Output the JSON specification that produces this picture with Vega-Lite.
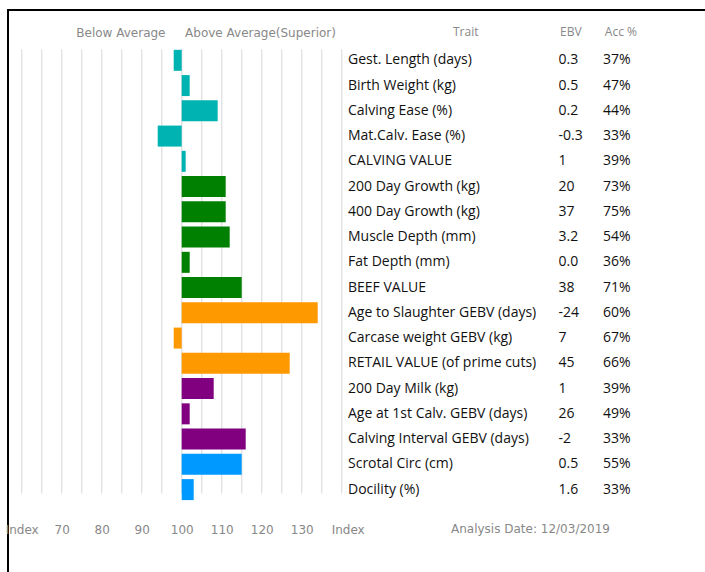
{
  "$schema": "https://vega.github.io/schema/vega-lite/v6.json",
  "width": 698,
  "height": 563,
  "autosize": {"type": "none"},
  "padding": {"left": 8, "top": 10, "right": 0, "bottom": 0},
  "background": "white",
  "config": {"view": {"stroke": "#000000", "strokeWidth": 2}},
  "datasets": {
    "traits": [
      {"row": 1, "trait": "Gest. Length (days)", "index": 98, "ebv": "0.3", "acc": "37%", "group": "Calving"},
      {"row": 2, "trait": "Birth Weight (kg)", "index": 102, "ebv": "0.5", "acc": "47%", "group": "Calving"},
      {"row": 3, "trait": "Calving Ease (%)", "index": 109, "ebv": "0.2", "acc": "44%", "group": "Calving"},
      {"row": 4, "trait": "Mat.Calv. Ease (%)", "index": 94, "ebv": "-0.3", "acc": "33%", "group": "Calving"},
      {"row": 5, "trait": "CALVING VALUE", "index": 101, "ebv": "1", "acc": "39%", "group": "Calving"},
      {"row": 6, "trait": "200 Day Growth (kg)", "index": 111, "ebv": "20", "acc": "73%", "group": "Beef"},
      {"row": 7, "trait": "400 Day Growth (kg)", "index": 111, "ebv": "37", "acc": "75%", "group": "Beef"},
      {"row": 8, "trait": "Muscle Depth (mm)", "index": 112, "ebv": "3.2", "acc": "54%", "group": "Beef"},
      {"row": 9, "trait": "Fat Depth (mm)", "index": 102, "ebv": "0.0", "acc": "36%", "group": "Beef"},
      {"row": 10, "trait": "BEEF VALUE", "index": 115, "ebv": "38", "acc": "71%", "group": "Beef"},
      {"row": 11, "trait": "Age to Slaughter GEBV (days)", "index": 134, "ebv": "-24", "acc": "60%", "group": "Retail"},
      {"row": 12, "trait": "Carcase weight GEBV (kg)", "index": 98, "ebv": "7", "acc": "67%", "group": "Retail"},
      {"row": 13, "trait": "RETAIL VALUE (of prime cuts)", "index": 127, "ebv": "45", "acc": "66%", "group": "Retail"},
      {"row": 14, "trait": "200 Day Milk (kg)", "index": 108, "ebv": "1", "acc": "39%", "group": "Maternal"},
      {"row": 15, "trait": "Age at 1st Calv. GEBV (days)", "index": 102, "ebv": "26", "acc": "49%", "group": "Maternal"},
      {"row": 16, "trait": "Calving Interval GEBV (days)", "index": 116, "ebv": "-2", "acc": "33%", "group": "Maternal"},
      {"row": 17, "trait": "Scrotal Circ (cm)", "index": 115, "ebv": "0.5", "acc": "55%", "group": "Other"},
      {"row": 18, "trait": "Docility (%)", "index": 103, "ebv": "1.6", "acc": "33%", "group": "Other"}
    ],
    "grid": [
      {"g": 60}, {"g": 65}, {"g": 70}, {"g": 75}, {"g": 80}, {"g": 85}, {"g": 90}, {"g": 95},
      {"g": 100}, {"g": 105}, {"g": 110}, {"g": 115}, {"g": 120}, {"g": 125}, {"g": 130}, {"g": 135}, {"g": 140}
    ],
    "one": [{}]
  },
  "layer": [
    {
      "data": {"name": "grid"},
      "mark": {"type": "rule", "color": "#e3e3e3", "strokeWidth": 1.5},
      "encoding": {
        "x": {
          "field": "g", "type": "quantitative",
          "scale": {"domain": [56.575, 231.075], "nice": false, "zero": false},
          "axis": {
            "values": [60, 70, 80, 90, 100, 110, 120, 130, 141.5],
            "labelExpr": "datum.value == 60 || datum.value > 140 ? 'Index' : datum.label",
            "grid": false, "ticks": false, "domain": false,
            "labelPadding": 0, "offset": -44, "labelFlush": false, "labelOverlap": false,
            "labelFont": "DejaVu Sans", "labelFontSize": 12, "labelColor": "#888888",
            "labelBaseline": "middle",
            "title": null
          }
        },
        "y": {"datum": 0.56, "type": "quantitative", "scale": {"domain": [-0.795, 21.105], "nice": false, "zero": false, "reverse": true}, "axis": null},
        "y2": {"datum": 18.15}
      }
    },
    {
      "data": {"name": "traits"},
      "mark": {"type": "bar", "size": 21},
      "encoding": {
        "x": {"field": "index", "type": "quantitative"},
        "x2": {"datum": 100},
        "y": {"field": "row", "type": "quantitative"},
        "color": {
          "field": "group", "type": "nominal",
          "scale": {"domain": ["Calving", "Beef", "Retail", "Maternal", "Other"], "range": ["#00b3b3", "#008000", "#ff9900", "#800080", "#0099ff"]},
          "legend": null
        }
      }
    },
    {
      "data": {"name": "traits"},
      "mark": {"type": "text", "align": "left", "baseline": "middle", "font": "Open Sans", "fontSize": 14, "color": "#111111"},
      "encoding": {
        "x": {"datum": 141.575, "type": "quantitative"},
        "y": {"field": "row", "type": "quantitative"},
        "text": {"field": "trait"}
      }
    },
    {
      "data": {"name": "traits"},
      "mark": {"type": "text", "align": "left", "baseline": "middle", "font": "Open Sans", "fontSize": 14, "color": "#111111"},
      "encoding": {
        "x": {"datum": 194.2, "type": "quantitative"},
        "y": {"field": "row", "type": "quantitative"},
        "text": {"field": "ebv"}
      }
    },
    {
      "data": {"name": "traits"},
      "mark": {"type": "text", "align": "left", "baseline": "middle", "font": "Open Sans", "fontSize": 14, "color": "#111111"},
      "encoding": {
        "x": {"datum": 205.3, "type": "quantitative"},
        "y": {"field": "row", "type": "quantitative"},
        "text": {"field": "acc"}
      }
    },
    {
      "data": {"name": "one"},
      "mark": {"type": "text", "align": "center", "baseline": "middle", "font": "DejaVu Sans", "fontSize": 12, "color": "#888888"},
      "encoding": {
        "x": {"datum": 84.8, "type": "quantitative"},
        "y": {"datum": -0.07, "type": "quantitative"},
        "text": {"value": "Below Average"}
      }
    },
    {
      "data": {"name": "one"},
      "mark": {"type": "text", "align": "center", "baseline": "middle", "font": "DejaVu Sans", "fontSize": 12, "color": "#888888"},
      "encoding": {
        "x": {"datum": 119.7, "type": "quantitative"},
        "y": {"datum": -0.07, "type": "quantitative"},
        "text": {"value": "Above Average(Superior)"}
      }
    },
    {
      "data": {"name": "one"},
      "mark": {"type": "text", "align": "center", "baseline": "middle", "font": "Open Sans", "fontSize": 12, "color": "#888888"},
      "encoding": {
        "x": {"datum": 171.0, "type": "quantitative"},
        "y": {"datum": -0.11, "type": "quantitative"},
        "text": {"value": "Trait"}
      }
    },
    {
      "data": {"name": "one"},
      "mark": {"type": "text", "align": "center", "baseline": "middle", "font": "Open Sans", "fontSize": 12, "color": "#888888"},
      "encoding": {
        "x": {"datum": 197.3, "type": "quantitative"},
        "y": {"datum": -0.11, "type": "quantitative"},
        "text": {"value": "EBV"}
      }
    },
    {
      "data": {"name": "one"},
      "mark": {"type": "text", "align": "center", "baseline": "middle", "font": "Open Sans", "fontSize": 12, "color": "#888888"},
      "encoding": {
        "x": {"datum": 209.8, "type": "quantitative"},
        "y": {"datum": -0.11, "type": "quantitative"},
        "text": {"value": "Acc %"}
      }
    },
    {
      "data": {"name": "one"},
      "mark": {"type": "text", "align": "center", "baseline": "middle", "font": "DejaVu Sans", "fontSize": 12, "color": "#888888"},
      "encoding": {
        "x": {"datum": 187.2, "type": "quantitative"},
        "y": {"datum": 19.55, "type": "quantitative"},
        "text": {"value": "Analysis Date: 12/03/2019"}
      }
    }
  ]
}
